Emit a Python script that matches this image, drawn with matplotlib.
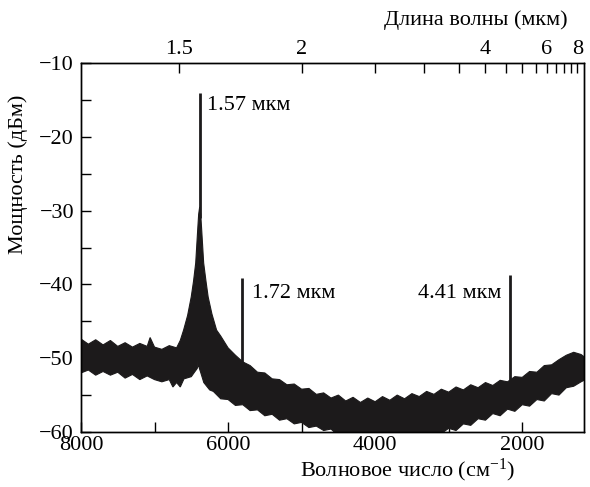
import numpy as np
import matplotlib
matplotlib.use("Agg")
import matplotlib.pyplot as plt

# ── Data ──────────────────────────────────────────────────────
# upper edge of the noise band: wavenumber (cm^-1), power (dBm)
wn_up = [8000, 7900, 7800, 7700, 7600, 7500, 7400, 7300, 7200, 7100, 7060,
         7000, 6900, 6800, 6700, 6650, 6605, 6550, 6501, 6470, 6440, 6413,
         6400, 6386, 6372, 6359, 6332, 6300, 6271, 6220, 6156, 6100, 6000,
         5900, 5800, 5700, 5600, 5500, 5400, 5300, 5200, 5100, 5000, 4900,
         4800, 4700, 4600, 4500, 4400, 4300, 4200, 4100, 4000, 3900, 3800,
         3700, 3600, 3500, 3400, 3300, 3200, 3100, 3000, 2900, 2800, 2700,
         2600, 2500, 2400, 2300, 2200, 2100, 2000, 1900, 1800, 1700, 1600,
         1500, 1400, 1300, 1200, 1160]
db_up = [-47.4, -48.1, -47.5, -48.2, -47.6, -48.4, -47.9, -48.5, -48.0, -48.4, -47.2,
         -48.5, -48.8, -48.3, -48.6, -47.6, -46.2, -44.2, -41.7, -39.6, -37.1, -32.6,
         -30.5, -29.5, -30.5, -32.6, -37.1, -39.6, -41.7, -44.0, -46.2, -47.0, -48.6,
         -49.6, -50.5, -51.0, -51.9, -52.0, -52.8, -52.9, -53.6, -53.5, -54.2, -54.1,
         -54.9, -54.7, -55.4, -55.0, -55.8, -55.3, -56.0, -55.4, -55.9, -55.2, -55.7,
         -55.0, -55.5, -54.8, -55.2, -54.5, -54.9, -54.2, -54.6, -53.9, -54.3, -53.6,
         -54.0, -53.3, -53.7, -53.0, -53.2, -52.5, -52.6, -51.8, -51.9, -51.0, -50.9,
         -50.2, -49.6, -49.2, -49.5, -49.8]

# lower edge of the noise band
wn_lo = [8000, 7900, 7800, 7700, 7600, 7500, 7400, 7300, 7200, 7100, 7000,
         6900, 6800, 6750, 6700, 6650, 6600, 6500, 6450, 6420, 6410, 6406,
         6402, 6370, 6330, 6250, 6200, 6100, 6000, 5900, 5800, 5700, 5600,
         5500, 5400, 5300, 5200, 5100, 5000, 4900, 4800, 4700, 4600, 4500,
         3200, 3100, 3000, 2900, 2800, 2700, 2600, 2500, 2400, 2300, 2200,
         2100, 2000, 1900, 1800, 1700, 1600, 1500, 1400, 1300, 1200, 1160]
db_lo = [-52.0, -51.6, -52.3, -51.8, -52.3, -51.9, -52.7, -52.2, -52.9, -52.4, -52.9,
         -53.2, -52.9, -53.9, -53.3, -53.9, -52.8, -52.5, -51.8, -51.4, -51.0, -48.0,
         -51.0, -52.0, -53.3, -54.3, -54.5, -55.5, -55.6, -56.4, -56.3, -57.1, -57.0,
         -57.8, -57.6, -58.4, -58.2, -58.9, -58.7, -59.4, -59.2, -59.8, -59.6, -60.5,
         -60.5, -60.2, -59.5, -59.8, -58.9, -59.1, -58.2, -58.4, -57.5, -57.8, -56.9,
         -57.2, -56.3, -56.5, -55.6, -55.8, -54.8, -55.0, -54.0, -53.8, -53.2, -53.0]

# narrow laser lines
line_wn   = [6386, 5812, 2170]
line_top  = [-14.0, -39.2, -38.7]
line_base = [-31.0, -51.0, -53.5]
line_lbl  = ["1.57 мкм", "1.72 мкм", "4.41 мкм"]

# top axis (wavelength, µm)
wl_ticks  = [1.5, 2, 2.5, 3, 3.5, 4, 4.5, 5, 5.5, 6, 6.5, 7, 7.5, 8]
wl_labels = ["1.5", "2", "", "", "", "4", "", "", "", "6", "", "", "", "8"]

INK = "#1c1a1b"

plt.rcParams.update({
    "font.family": ["Liberation Serif", "DejaVu Serif"],
    "font.size": 16,
    "mathtext.fontset": "custom",
    "mathtext.rm": "Liberation Serif",
    "mathtext.it": "Liberation Serif:italic",
    "axes.linewidth": 1.0,
})

W, H = 590, 487
fig = plt.figure(figsize=(W / 100, H / 100), dpi=100)
ax = fig.add_axes([81 / W, 1 - 432 / H, (584 - 81) / W, (432 - 63) / H])

poly_x = np.concatenate([wn_up, wn_lo[::-1]])
poly_y = np.concatenate([db_up, db_lo[::-1]])
ax.fill(poly_x, poly_y, color=INK, lw=0.8, ec=INK, zorder=2)
ax.vlines(line_wn, line_base, line_top, color=INK, lw=2.0, zorder=3)

ax.text(6280, -15.7, line_lbl[0], ha="left", va="center")
ax.text(5680, -41.3, line_lbl[1], ha="left", va="center")
ax.text(2280, -41.3, line_lbl[2], ha="right", va="center")

ax.set_xlim(8000, 1160)
ax.set_ylim(-60, -10)
ax.set_xticks([8000, 7000, 6000, 5000, 4000, 3000, 2000])
ax.set_xticklabels(["8000", "", "6000", "", "4000", "", "2000"])
ax.set_yticks(np.arange(-60, -9, 5))
ax.set_yticklabels(["\u221260", "", "\u221250", "", "\u221240", "", "\u221230",
                    "", "\u221220", "", "\u221210"])
ax.tick_params(direction="in", length=7, width=1.0, top=False, right=False)
ax.tick_params(axis="x", pad=3)
ax.tick_params(axis="y", pad=5)

ax2 = ax.twiny()
ax2.set_xlim(ax.get_xlim())
ax2.set_xticks([1e4 / w for w in wl_ticks])
ax2.set_xticklabels(wl_labels)
ax2.tick_params(direction="in", length=7, width=1.0, pad=3)

fig.text(408 / W, 1 - 470 / H, r"Волновое число (см$^{-1}$)", ha="center", va="center")
fig.text(18 / W, 1 - 174 / H, "Мощность (дБм)", rotation=90, ha="center", va="center")
fig.text(568 / W, 1 - 20 / H, "Длина волны (мкм)", ha="right", va="center")

fig.savefig("out.png", dpi=100)
